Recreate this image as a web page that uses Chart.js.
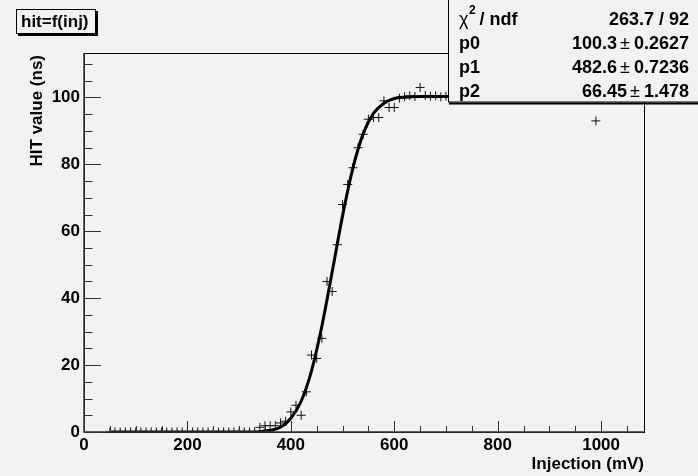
<!DOCTYPE html>
<html>
<head>
<meta charset="utf-8">
<script src="https://cdn.jsdelivr.net/npm/chart.js@4.4.0/dist/chart.umd.min.js"></script>
<style>
  html, body { margin: 0; padding: 0; background: #f2f2f2; }
  #wrap { width: 698px; height: 476px; }
</style>
</head>
<body>
<div id="wrap"><canvas id="hitChart"></canvas></div>
<script>
// measured points (mV -> ns)
const injection = [
  50, 60, 70, 80, 90, 100, 110, 120, 130, 140, 150, 160, 170, 180, 190, 200,
  210, 220, 230, 240, 250, 260, 270, 280, 290, 300, 310, 320, 330, 340, 350,
  360, 370, 380, 390, 400, 410, 420, 430, 440, 450, 460, 470, 480, 490, 500,
  510, 520, 530, 540, 550, 560, 570, 580, 590, 600, 610, 620, 630, 640, 650,
  660, 670, 680, 690, 700, 710, 720, 730, 740, 750, 760, 770, 780, 790, 800,
  810, 820, 830, 840, 850, 860, 870, 880, 890, 900, 910, 920, 930, 940, 950,
  960, 970, 980, 990
];
const hitValues = [
  0, 0, 0, 0, 0, 0, 0, 0, 0, 0, 0, 0, 0, 0, 0, 0,
  0, 0, 0, 0, 0, 0, 0, 0, 0, 0, 0, 0, 0, 1.4, 1.9,
  1.9, 1.9, 2.7, 3.2, 6, 8, 5, 12, 23, 22, 28, 45, 42, 56, 68,
  74, 79, 85, 89, 93.5, 94, 94, 99, 97, 97, 99.8, 100.2, 100.5, 100.3, 103,
  100.6, 100.4, 100.5, 100.2, 100.4, 100.3, 100.5, 100.2, 100.4, 100.3, 100.1, 100.4, 100.2, 100.5, 100.3,
  100.2, 100.4, 100.3, 100.1, 100.4, 100.2, 100.3, 100.5, 100.2, 100.3, 100.4, 100.2, 100.3, 100.1, 100.4,
  100.3, 100.2, 100.4, 93
];

// fitted curve
const fitInjection = [50, 300, 340, 360, 380, 400, 420, 440, 460, 480, 500, 520, 540, 560, 580, 600, 620, 650, 700, 1000];
const fitValues = [0, 0, 0.1, 0.5, 1.4, 4.1, 9.2, 18.3, 31.6, 47.9, 64.6, 78.9, 89.2, 95.3, 98.3, 99.7, 100.1, 100.3, 100.3, 100.3];

const xTickStep = 200;
const yTickStep = 20;

const statsRows = [
  ["p0", "100.3", "0.2627"],
  ["p1", "482.6", "0.7236"],
  ["p2", "66.45", "1.478"]
];
const chiSquare = "263.7 / 92";

const FONT = "'Liberation Sans', Arial, Helvetica, sans-serif";

const rootFrame = {
  id: "rootFrame",
  afterDraw(chart) {
    const ctx = chart.ctx;
    const { left, right, top, bottom } = chart.chartArea;
    const x = chart.scales.x;
    const y = chart.scales.y;
    ctx.save();

    // frame
    ctx.strokeStyle = "#000";
    ctx.lineWidth = 1;
    ctx.strokeRect(left + 0.5, top + 0.5, right - left, bottom - top);
    ctx.strokeStyle = "#333";
    ctx.lineWidth = 1.5;
    ctx.beginPath();
    ctx.moveTo(left, top);
    ctx.lineTo(left, bottom);
    ctx.lineTo(right, bottom);
    ctx.stroke();

    // ticks inside the frame
    ctx.lineWidth = 1;
    ctx.beginPath();
    for (let v = 0; v <= x.max; v += 50) {
      const px = Math.round(x.getPixelForValue(v)) + 0.5;
      const len = v % 200 === 0 ? 11 : 6;
      ctx.moveTo(px, bottom);
      ctx.lineTo(px, bottom - len);
    }
    for (let v = 0; v <= y.max; v += 5) {
      const py = Math.round(y.getPixelForValue(v)) + 0.5;
      const len = v % 20 === 0 ? 17 : 8.5;
      ctx.moveTo(left, py);
      ctx.lineTo(left + len, py);
    }
    ctx.stroke();

    // axis titles
    ctx.fillStyle = "#000";
    ctx.font = "bold 17px " + FONT;
    ctx.textBaseline = "middle";
    ctx.textAlign = "right";
    ctx.fillText("Injection (mV)", right, 464);
    ctx.save();
    ctx.translate(37, top + 2);
    ctx.rotate(-Math.PI / 2);
    ctx.fillText("HIT value (ns)", 0, 0);
    ctx.restore();

    // title box
    ctx.fillStyle = "#f2f2f2";
    ctx.fillRect(16, 9, 79, 24);
    ctx.strokeStyle = "#000";
    ctx.lineWidth = 1;
    ctx.strokeRect(16.5, 9.5, 79, 24);
    ctx.lineWidth = 2;
    ctx.beginPath();
    ctx.moveTo(97, 11);
    ctx.lineTo(97, 35);
    ctx.lineTo(18, 35);
    ctx.stroke();
    ctx.fillStyle = "#000";
    ctx.textAlign = "left";
    ctx.fillText("hit=f(inj)", 21, 22);

    // stats box
    const bx = 448, bw = 260, bh = 103;
    ctx.fillStyle = "#f2f2f2";
    ctx.fillRect(bx, -1, bw, bh);
    ctx.strokeStyle = "#000";
    ctx.lineWidth = 1;
    ctx.strokeRect(bx + 0.5, -1, bw, bh);
    ctx.lineWidth = 2;
    ctx.beginPath();
    ctx.moveTo(bx + 1, bh + 0.5);
    ctx.lineTo(698, bh + 0.5);
    ctx.stroke();

    const lx = 459, rx = 689;
    const bold = "bold 18px " + FONT;
    const plain = "18px " + FONT;
    ctx.fillStyle = "#000";
    ctx.textBaseline = "middle";
    // chi2 row
    ctx.textAlign = "left";
    ctx.font = plain;
    ctx.fillText("\u03c7", lx, 20);
    const cw = ctx.measureText("\u03c7").width;
    ctx.font = "bold 12px " + FONT;
    ctx.fillText("2", lx + cw + 0.5, 11);
    ctx.font = bold;
    ctx.fillText(" / ndf", lx + cw + 6, 20);
    ctx.textAlign = "right";
    ctx.fillText(chiSquare, rx, 20);

    statsRows.forEach((row, i) => {
      const ry = 44 + i * 24;
      ctx.font = bold;
      ctx.textAlign = "left";
      ctx.fillText(row[0], lx, ry);
      ctx.textAlign = "right";
      ctx.fillText(row[2], rx, ry);
      const ew = ctx.measureText(row[2]).width;
      ctx.font = plain;
      const pmx = rx - ew - 4;
      ctx.fillText("\u00b1", pmx, ry);
      const pw = ctx.measureText("\u00b1").width;
      ctx.font = bold;
      ctx.fillText(row[1], pmx - pw - 3, ry);
    });

    ctx.restore();
  }
};

new Chart(document.getElementById("hitChart"), {
  type: "scatter",
  data: {
    datasets: [
      {
        label: "fit",
        type: "line",
        data: fitInjection.map((v, i) => ({ x: v, y: fitValues[i] })),
        borderColor: "#000",
        borderWidth: 3,
        pointRadius: 0,
        cubicInterpolationMode: "monotone",
        fill: false
      },
      {
        label: "hit",
        data: injection.map((v, i) => ({ x: v, y: hitValues[i] })),
        pointStyle: "cross",
        pointRadius: 4.5,
        borderColor: "#111",
        borderWidth: 1,
        backgroundColor: "#111"
      }
    ]
  },
  options: {
    responsive: true,
    maintainAspectRatio: false,
    animation: false,
    layout: { padding: { top: 53, right: 54, left: 0, bottom: 0 } },
    plugins: {
      legend: { display: false },
      tooltip: { enabled: false }
    },
    scales: {
      x: {
        type: "linear",
        min: 0,
        max: 1083,
        grid: { display: false, drawTicks: false },
        border: { display: false },
        afterFit(scale) { scale.height = 44; },
        ticks: {
          stepSize: xTickStep,
          includeBounds: false,
          maxRotation: 0,
          autoSkip: false,
          padding: 3,
          color: "#000",
          font: { family: FONT, size: 17, weight: "bold" },
          callback: (v) => String(v)
        }
      },
      y: {
        min: 0,
        max: 113.3,
        grid: { display: false, drawTicks: false },
        border: { display: false },
        afterFit(scale) { scale.width = 84; },
        ticks: {
          stepSize: yTickStep,
          includeBounds: false,
          padding: 4,
          color: "#000",
          font: { family: FONT, size: 17, weight: "bold" },
          callback: (v) => String(v)
        }
      }
    }
  },
  plugins: [rootFrame]
});
</script>
</body>
</html>
